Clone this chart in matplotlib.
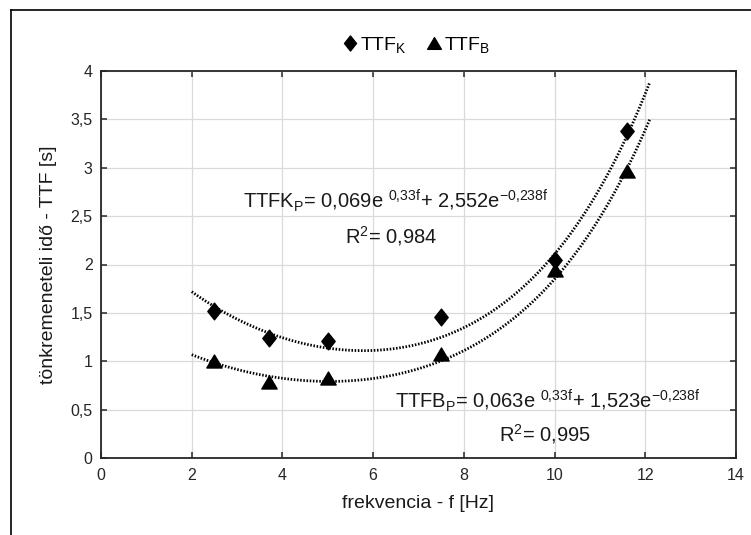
"""
Failure time vs. loading frequency, with the fitted double-exponential trendlines.
Writes out.png (751x535).
"""
import numpy as np
import matplotlib
matplotlib.use("Agg")
import matplotlib.pyplot as plt
from matplotlib.lines import Line2D
from matplotlib.path import Path
from matplotlib.ticker import MultipleLocator, FuncFormatter

# measured points
FREQ = [2.5, 3.7, 5.0, 7.5, 10.0, 11.6]
TTF_K = [1.52, 1.24, 1.21, 1.46, 2.05, 3.38]
TTF_B = [1.00, 0.79, 0.83, 1.07, 1.94, 2.97]

# trendline coefficients as printed on the chart: a*exp(b*f) + c*exp(d*f)
FIT_K = [0.069, 0.33, 2.552, -0.238]
FIT_B = [0.063, 0.33, 1.523, -0.238]
FIT_RANGE = [2.0, 12.1]

plt.rcParams["font.family"] = ["Liberation Sans", "DejaVu Sans"]
plt.rcParams["mathtext.fontset"] = "custom"
plt.rcParams["mathtext.rm"] = "Liberation Sans"
plt.rcParams["mathtext.it"] = "Liberation Sans:italic"
plt.rcParams["mathtext.bf"] = "Liberation Sans:bold"

# marker shapes (Excel-like: diamond a bit narrow, triangle a bit flat)
DIAMOND = Path([(0, 1), (0.8, 0), (0, -1), (-0.8, 0), (0, 1)],
               [Path.MOVETO, Path.LINETO, Path.LINETO, Path.LINETO, Path.CLOSEPOLY])
TRIANGLE = Path([(0, 0.85), (1, -0.85), (-1, -0.85), (0, 0.85)],
                [Path.MOVETO, Path.LINETO, Path.LINETO, Path.CLOSEPOLY])


def trend(coef, f):
    a, b, c, d = coef
    return a * np.exp(b * f) + c * np.exp(d * f)


def main():
    W, H = 751, 535
    fig = plt.figure(figsize=(W / 100, H / 100), dpi=100)
    ax = fig.add_axes([101 / W, 1 - 458 / H, 635 / W, 387 / H])

    f = np.linspace(FIT_RANGE[0], FIT_RANGE[1], 200)
    dots = (0, (0.55, 0.6))
    ax.plot(f, trend(FIT_K, f), color="black", lw=2.0, ls=dots, zorder=2)
    ax.plot(f, trend(FIT_B, f), color="black", lw=2.0, ls=dots, zorder=2)

    ax.plot(FREQ, TTF_K, ls="none", marker=DIAMOND, ms=12, color="black",
            label=r"TTF$_\mathregular{K}$", zorder=3)
    ax.plot(FREQ, TTF_B, ls="none", marker=TRIANGLE, ms=11, color="black",
            label=r"TTF$_\mathregular{B}$", zorder=3)

    ax.set_xlim(0, 14)
    ax.set_ylim(0, 4)
    ax.xaxis.set_major_locator(MultipleLocator(2))
    ax.yaxis.set_major_locator(MultipleLocator(0.5))
    comma = FuncFormatter(lambda v, pos: f"{v:g}".replace(".", ","))
    ax.xaxis.set_major_formatter(comma)
    ax.yaxis.set_major_formatter(comma)

    ax.grid(True, color="#dadada", lw=0.9)
    ax.set_axisbelow(True)
    for s in ax.spines.values():
        s.set_color("#262626")
        s.set_linewidth(1.3)
    ax.tick_params(direction="in", length=4, width=1.1, color="#262626",
                   top=True, right=True, labelsize=11.5, labelcolor="#262626")
    ax.tick_params(axis="x", pad=7)
    ax.tick_params(axis="y", pad=6)

    ax.set_xlabel("frekvencia - f [Hz]", fontsize=14, color="#1a1a1a", labelpad=9)
    ax.set_ylabel("tönkremeneteli idő - TTF [s]", fontsize=14, color="#1a1a1a", labelpad=10)

    # fitted equations
    ax.text(3.12, 2.58,
            r"TTFK$_\mathregular{P}$= 0,069e $^\mathregular{0{,}33f}$+ 2,552e$^\mathregular{-0{,}238f}$",
            fontsize=14.5, ha="left", va="baseline", color="#1a1a1a")
    ax.text(6.40, 2.22, r"R$^\mathregular{2}$= 0,984", fontsize=14.5,
            ha="center", va="baseline", color="#1a1a1a")
    ax.text(6.48, 0.517,
            r"TTFB$_\mathregular{P}$= 0,063e $^\mathregular{0{,}33f}$+ 1,523e$^\mathregular{-0{,}238f}$",
            fontsize=14.5, ha="left", va="baseline", color="#1a1a1a")
    ax.text(9.79, 0.169, r"R$^\mathregular{2}$= 0,995", fontsize=14.5,
            ha="center", va="baseline", color="#1a1a1a")

    fig.legend(loc="center", bbox_to_anchor=(416 / W, 1 - 45 / H), ncol=2,
               frameon=False, fontsize=14, handlelength=0.8, handletextpad=0.1,
               columnspacing=1.0, markerscale=0.9)

    # outer chart frame (only left and top edges fall inside the image)
    fig.add_artist(Line2D([11 / W, 11 / W], [0, 1 - 10 / H], color="black", lw=1.2))
    fig.add_artist(Line2D([11 / W, 1], [1 - 10 / H, 1 - 10 / H], color="black", lw=1.2))

    fig.savefig("out.png", dpi=100)


if __name__ == "__main__":
    main()
